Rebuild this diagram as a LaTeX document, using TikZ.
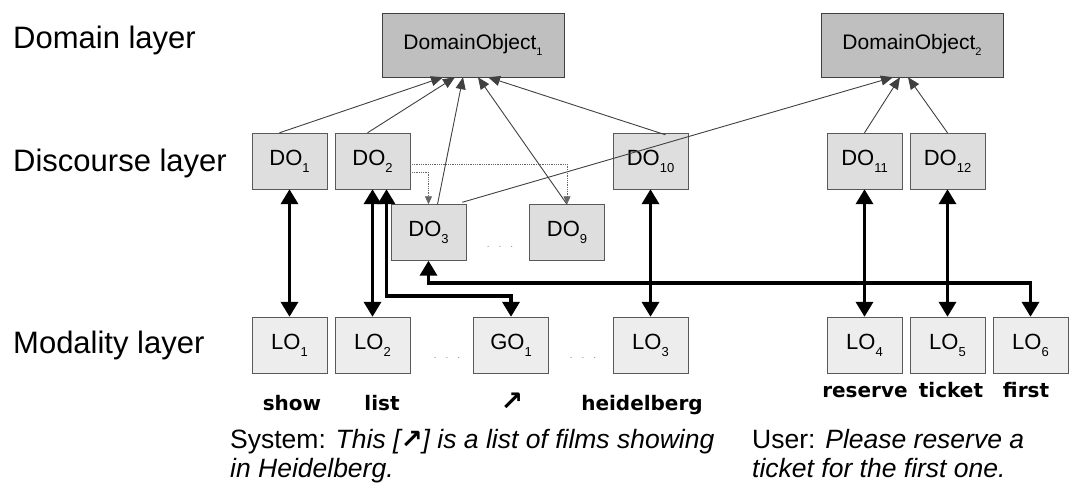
\documentclass[tikz,border=0pt]{standalone}
\usepackage{fontspec}
\setmainfont{Liberation Sans}
\newfontfamily\wordfont{DejaVu Sans}
\usepackage{tikz}
\usetikzlibrary{
    positioning,
    arrows.meta,
    calc
}
\newcommand{\idx}[1]{\raisebox{-0.6ex}{\fontsize{13}{13}\selectfont #1}}

\begin{document}
\begin{tikzpicture}[
    x=1pt, y=-1pt,
    layer/.style={anchor=west, inner sep=0pt, font=\fontsize{31}{36}\selectfont},
    domobj/.style={draw=black!75, fill=black!25, minimum width=182pt, minimum height=64pt, inner sep=0pt, font=\fontsize{21}{24}\selectfont},
    disobj/.style={draw=black!65, fill=black!13, minimum width=75pt, minimum height=56pt, inner sep=0pt, font=\fontsize{22}{24}\selectfont},
    modobj/.style={disobj, fill=black!7},
    word/.style={anchor=base, inner sep=0pt, font=\wordfont\bfseries\fontsize{20}{24}\selectfont},
    gap/.style={inner sep=0pt, font=\fontsize{10}{10}\selectfont, text=black!45},
    said/.style={anchor=north west, align=left, inner sep=0pt, font=\fontsize{26.5}{29}\selectfont},
    link/.style={draw=black!75, line width=0.9pt, -{Triangle[length=12pt,width=10pt]}},
    refer/.style={draw=black!60, densely dotted, line width=0.8pt, -{Triangle[length=8pt,width=7pt]}},
    match/.style={line width=3.5pt, {Triangle[length=15pt,width=17pt]}-{Triangle[length=15pt,width=17pt]}},
]
    \useasboundingbox (0,0) rectangle (1079,498);

    % Layer names
    \node[layer] (ldomain) at (13,40) {Domain layer};
    \node[layer] (ldiscourse) at (13,163) {Discourse layer};
    \node[layer] (lmodality) at (13,345) {Modality layer};

    % Domain objects
    \node[domobj] (dom1) at (473,45) {DomainObject\idx{\fontsize{11}{11}\selectfont 1}};
    \node[domobj] (dom2) at (912,45) {DomainObject\idx{\fontsize{11}{11}\selectfont 2}};

    % Discourse objects
    \node[disobj] (DO1) at (289.5,161) {DO\idx{1}};
    \node[disobj] (DO2) at (372.5,161) {DO\idx{2}};
    \node[disobj] (DO3) at (428.5,232.5) {DO\idx{3}};
    \node[disobj] (DO9) at (567,232.5) {DO\idx{9}};
    \node[disobj] (DO10) at (650.5,161) {DO\idx{10}};
    \node[disobj] (DO11) at (864.5,161) {DO\idx{11}};
    \node[disobj] (DO12) at (947.5,161) {DO\idx{12}};
    \node[gap] (gapDO) at (500,247) {.\hspace{9pt}.\hspace{9pt}.};

    % Modality objects
    \node[modobj] (LO1) at (289.5,345) {LO\idx{1}};
    \node[modobj] (LO2) at (372.5,345) {LO\idx{2}};
    \node[modobj] (GO1) at (511,345) {GO\idx{1}};
    \node[modobj] (LO3) at (650.5,345) {LO\idx{3}};
    \node[modobj] (LO4) at (864.5,345) {LO\idx{4}};
    \node[modobj] (LO5) at (947.5,345) {LO\idx{5}};
    \node[modobj] (LO6) at (1030.5,345) {LO\idx{6}};
    \node[gap] (gapLOa) at (447,358) {.\hspace{9pt}.\hspace{9pt}.};
    \node[gap] (gapLOb) at (583,358) {.\hspace{9pt}.\hspace{9pt}.};

    % Surface words
    \node[word] (wshow) at (292,410) {show};
    \node[word] (wlist) at (382,410) {list};
    \node[word, font=\wordfont\bfseries\fontsize{27}{27}\selectfont] (wpoint) at (512,410) {↗};
    \node[word] (wheid) at (642,410) {heidelberg};
    \node[word] (wreserve) at (865,397) {reserve};
    \node[word] (wticket) at (951,397) {ticket};
    \node[word] (wfirst) at (1026,397) {first};

    % Utterances
    \node[said] (sys) at (230,429) {System: \textit{This [{\wordfont\bfseries ↗}] is a list of films showing}\\\textit{in Heidelberg.}};
    \node[said] (usr) at (752,429) {User: \textit{Please reserve a}\\\textit{ticket for the first one.}};

    % Links to domain objects
    \draw[link] ([xshift=-10pt]DO1.north) -- ([xshift=-30pt]dom1.south);
    \draw[link] ([xshift=-5pt]DO2.north) -- ([xshift=-18pt]dom1.south);
    \draw[link] ([xshift=9pt]DO3.north) -- ([xshift=-10pt]dom1.south);
    \draw[link] (DO9.north) -- ([xshift=5pt]dom1.south);
    \draw[link] ([xshift=15pt,yshift=-2pt]DO10.north) -- ([xshift=15pt]dom1.south);
    \draw[link] ([xshift=-4pt,yshift=2pt]DO3.north east) -- ([xshift=-19pt]dom2.south);
    \draw[link] (DO11.north) -- ([xshift=-12pt]dom2.south);
    \draw[link] (DO12.north) -- ([xshift=-4pt]dom2.south);

    % Sub-references
    \draw[refer] ([yshift=-3pt]DO2.east) -| (DO9.north);
    \draw[refer] ([yshift=-11pt]DO2.east) -| (DO3.north);

    % Discourse <-> modality
    \draw[match] (DO1.south) -- (LO1.north);
    \draw[match] (DO2.south) -- (LO2.north);
    \draw[match] ([xshift=14pt]DO2.south) |- ([yshift=21pt]GO1.north) -- (GO1.north);
    \draw[match] (DO3.south) |- ([yshift=34pt]LO6.north) -- (LO6.north);
    \draw[match] (DO10.south) -- (LO3.north);
    \draw[match] (DO11.south) -- (LO4.north);
    \draw[match] (DO12.south) -- (LO5.north);

\end{tikzpicture}
\end{document}
